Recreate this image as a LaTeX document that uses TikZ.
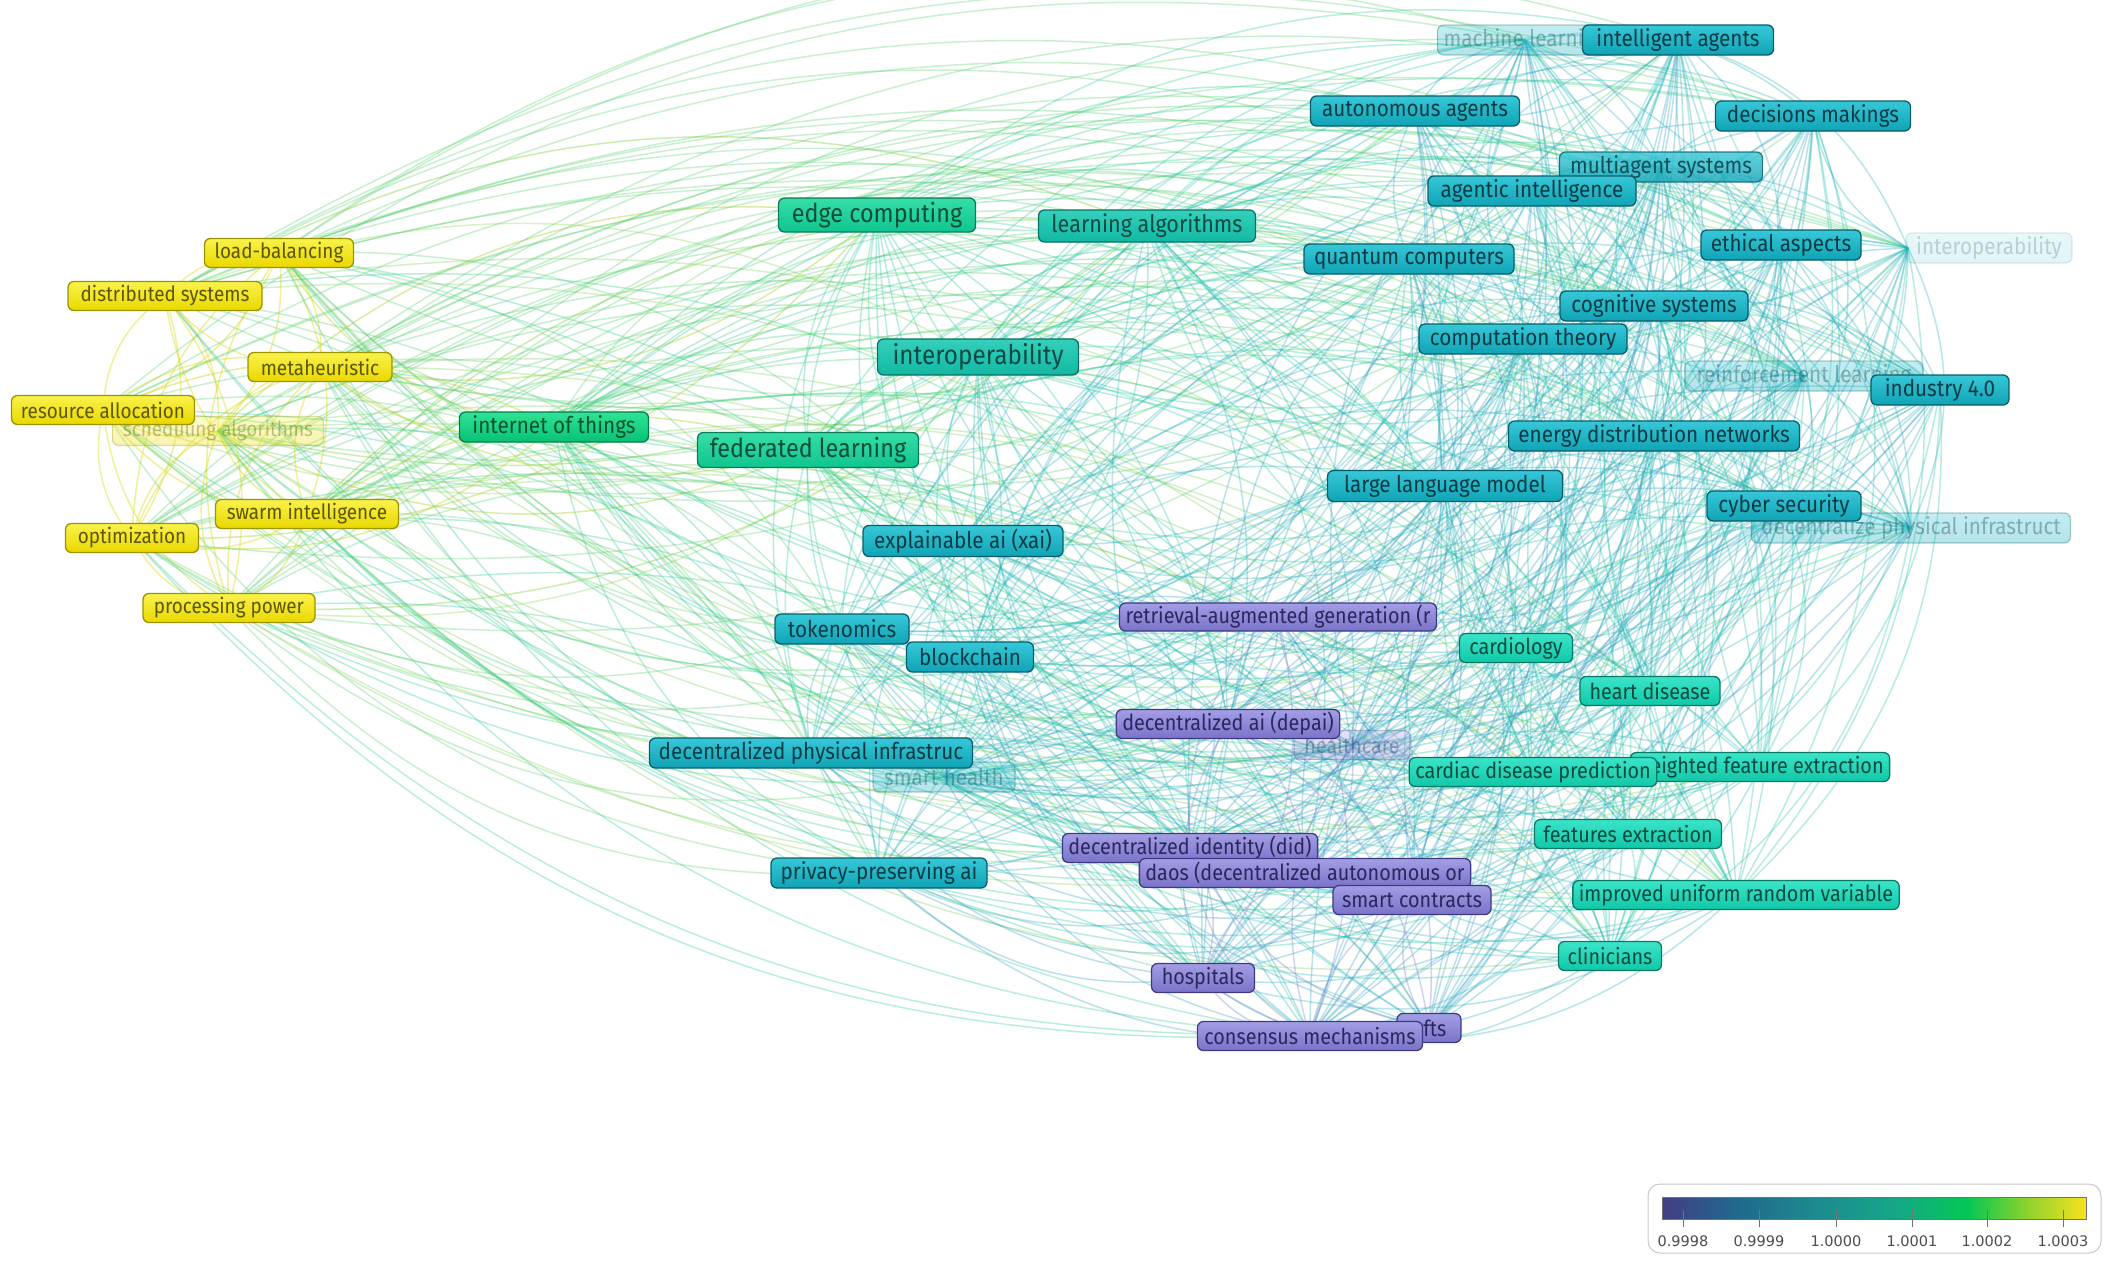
\documentclass[tikz,border=0pt]{standalone}
\usepackage{fontspec}
\setmainfont{Fira Sans}[FakeStretch=0.9]
\newfontfamily\legfont{DejaVu Sans}
\pgfdeclarelayer{bg}
\pgfsetlayers{bg,main}
% node colours
\definecolor{yT}{HTML}{F9F24A}\definecolor{yB}{HTML}{EAD800}\definecolor{yD}{HTML}{9C9400}\definecolor{yX}{HTML}{5C5600}
\definecolor{gT}{HTML}{2EE395}\definecolor{gB}{HTML}{06C275}\definecolor{gD}{HTML}{0A7A4A}\definecolor{gX}{HTML}{0A4F31}
\definecolor{hT}{HTML}{36DDA8}\definecolor{hB}{HTML}{0FC58E}\definecolor{hD}{HTML}{0B7A58}\definecolor{hX}{HTML}{0A4E3A}
\definecolor{cT}{HTML}{34D0BC}\definecolor{cB}{HTML}{12B8A2}\definecolor{cD}{HTML}{0A7065}\definecolor{cX}{HTML}{0A4A44}
\definecolor{tT}{HTML}{36C8D8}\definecolor{tB}{HTML}{0FA3B5}\definecolor{tD}{HTML}{0A5E6C}\definecolor{tX}{HTML}{0A3B45}
\definecolor{pT}{HTML}{A39EE6}\definecolor{pB}{HTML}{7A73C8}\definecolor{pD}{HTML}{3F3A85}\definecolor{pX}{HTML}{2B275E}
\definecolor{qT}{HTML}{3AE4C8}\definecolor{qB}{HTML}{10C7A8}\definecolor{qD}{HTML}{0A7A66}\definecolor{qX}{HTML}{0A4A40}
% edge colours
\definecolor{ceP}{HTML}{7B76D0}\definecolor{ceT}{HTML}{20A8C0}\definecolor{ceQ}{HTML}{20C8A8}
\definecolor{ceG}{HTML}{30CC80}\definecolor{ceY}{HTML}{E0DC20}
% legend colours
\definecolor{v0}{HTML}{433E85}\definecolor{v1}{HTML}{1F6A8D}\definecolor{v2}{HTML}{1D8A8E}
\definecolor{v3}{HTML}{16A58A}\definecolor{v4}{HTML}{03C854}\definecolor{v5}{HTML}{8CD22C}\definecolor{v6}{HTML}{F9E21E}
\pgfdeclarehorizontalshading{vir}{100bp}{color(0bp)=(v0); color(25bp)=(v0); color(34bp)=(v1); color(43bp)=(v2); color(52bp)=(v3); color(61bp)=(v4); color(68bp)=(v5); color(75bp)=(v6); color(100bp)=(v6)}
\tikzset{
  kw/.style={rounded corners=6pt, draw, line width=1.3pt, minimum height=29pt, inner xsep=6pt, inner ysep=1pt, font=\fontsize{22}{25}\selectfont, anchor=center},
  ky/.style={kw, top color=yT, bottom color=yB, draw=yD, text=yX, font=\fontsize{21}{24}\selectfont},
  kg/.style={kw, top color=gT, bottom color=gB, draw=gD, text=gX, font=\fontsize{23}{26}\selectfont},
  kh/.style={kw, top color=hT, bottom color=hB, draw=hD, text=hX},
  kc/.style={kw, top color=cT, bottom color=cB, draw=cD, text=cX},
  kt/.style={kw, top color=tT, bottom color=tB, draw=tD, text=tX, font=\fontsize{23}{26}\selectfont},
  kp/.style={kw, top color=pT, bottom color=pB, draw=pD, text=pX},
  kq/.style={kw, top color=qT, bottom color=qB, draw=qD, text=qX},
  dim/.style={opacity=0.3, text opacity=0.35},
  big/.style={font=\fontsize{26}{30}\selectfont},
  lnk/.style={line width=1.5pt},
}
\def\EL{sched/218/431/1.0, loadb/279/253/1.0, distsys/165/296/1.0, metah/320/367/1.0, resalloc/103/410/1.0, swarm/307/514/1.0, optim/132/538/1.0, procp/229/608/1.0,
iot/554/427/0.88, edgec/877/215/0.8, fedl/808/450/0.8, learnalg/1147/226/0.66, interop/978/357/0.64,
explai/963/541/0.45, tokenomics/842/629/0.45, blockchain/970/657/0.45, dpi/811/753/0.45, smarthealth/944/777/0.45, ppai/879/873/0.45,
mlearn/1525/40/0.45, intag/1678/40/0.45, autag/1415/111/0.45, decmak/1813/116/0.45, multi/1661/167/0.45, agentic/1532/191/0.45, quantum/1409/259/0.45, ethical/1781/245/0.45, hubio/1908/248/0.45,
cogsys/1654/306/0.45, comptheory/1523/339/0.45, reinf/1804/376/0.45, ind40/1940/390/0.45, energy/1654/436/0.45, llm/1445/486/0.4, cyber/1784/506/0.45, dpi2/1911/528/0.45,
rag/1278/617/0.05, depai/1228/724/0.05, healthcare/1352/745/0.05, did/1190/848/0.05, daos/1305/873/0.05, smartc/1412/900/0.05, hospitals/1203/978/0.05, nfts/1427/1028/0.05, consensus/1310/1036/0.05,
cardiology/1516/648/0.6, heart/1650/691/0.6, cdp/1533/772/0.6, wfe/1760/767/0.6, featx/1628/834/0.6, iurv/1736/895/0.6, clin/1610/956/0.6}
\begin{document}
\begin{tikzpicture}[x=1pt,y=-1pt]
\useasboundingbox (0,0) rectangle (2119,1275);
% ---- yellow cluster
\node[ky, dim, minimum width=211pt] (sched) at (218,431) {scheduling algorithms};
\node[ky, minimum width=149pt] (loadb) at (279,253) {load-balancing};
\node[ky, minimum width=194pt] (distsys) at (165,296) {distributed systems};
\node[ky, minimum width=144pt] (metah) at (320,367) {metaheuristic};
\node[ky, minimum width=183pt] (resalloc) at (103,410) {resource allocation};
\node[ky, minimum width=183pt] (swarm) at (307,514) {swarm intelligence};
\node[ky, minimum width=133pt] (optim) at (132,538) {optimization};
\node[ky, minimum width=172pt] (procp) at (229,608) {processing power};
% ---- green
\node[kg, minimum width=189pt, minimum height=30pt] (iot) at (554,427) {internet of things};
\node[kh, big, minimum width=197pt, minimum height=34pt] (edgec) at (877,215) {edge computing};
\node[kh, big, minimum width=221pt, minimum height=35pt] (fedl) at (808,450) {federated learning};
\node[kc, font=\fontsize{24}{28}\selectfont, minimum width=217pt, minimum height=32pt] (learnalg) at (1147,226) {learning algorithms};
\node[kc, font=\fontsize{27}{30}\selectfont, minimum width=201pt, minimum height=36pt] (interop) at (978,357) {interoperability};
% ---- teal
\node[kt, minimum width=200pt, minimum height=31pt] (explai) at (963,541) {explainable ai (xai)};
\node[kt, minimum width=134pt, minimum height=30pt] (tokenomics) at (842,629) {tokenomics};
\node[kt, minimum width=127pt, minimum height=30pt] (blockchain) at (970,657) {blockchain};
\node[kt, dim, minimum width=142pt, minimum height=30pt] (smarthealth) at (944,777) {smart health};
\node[kt, minimum width=323pt, minimum height=30pt] (dpi) at (811,753) {decentralized physical infrastruc};
\node[kt, minimum width=216pt, minimum height=30pt] (ppai) at (879,873) {privacy-preserving ai};
\node[kt, dim, minimum width=170pt, minimum height=30pt] (mlearn) at (1525,40) {machine learning};
\node[kt, minimum width=191pt, minimum height=30pt] (intag) at (1678,40) {intelligent agents};
\node[kt, minimum width=209pt, minimum height=30pt] (autag) at (1415,111) {autonomous agents};
\node[kt, minimum width=195pt, minimum height=30pt] (decmak) at (1813,116) {decisions makings};
\node[kt, opacity=0.8, text opacity=0.85, minimum width=203pt, minimum height=30pt] (multi) at (1661,167) {multiagent systems};
\node[kt, minimum width=208pt, minimum height=30pt] (agentic) at (1532,191) {agentic intelligence};
\node[kt, minimum width=210pt, minimum height=30pt] (quantum) at (1409,259) {quantum computers};
\node[kt, opacity=0.12, text opacity=0.2, minimum width=166pt, minimum height=30pt] (interop2) at (1989,248) {interoperability};
\coordinate (hubio) at (1908,248);
\node[kt, minimum width=160pt, minimum height=30pt] (ethical) at (1781,245) {ethical aspects};
\node[kt, minimum width=188pt, minimum height=30pt] (cogsys) at (1654,306) {cognitive systems};
\node[kt, minimum width=208pt, minimum height=30pt] (comptheory) at (1523,339) {computation theory};
\node[kt, dim, minimum width=238pt, minimum height=30pt] (reinf) at (1804,376) {reinforcement learning};
\node[kt, minimum width=138pt, minimum height=30pt] (ind40) at (1940,390) {industry 4.0};
\node[kt, minimum width=291pt, minimum height=30pt] (energy) at (1654,436) {energy distribution networks};
\node[kt, minimum width=235pt, minimum height=31pt] (llm) at (1445,486) {large language model};
\node[kt, dim, minimum width=319pt, minimum height=30pt] (dpi2) at (1911,528) {decentralize physical infrastruct};
\node[kt, minimum width=154pt, minimum height=30pt] (cyber) at (1784,506) {cyber security};
% ---- purple
\node[kp, minimum width=309pt, minimum height=28pt] (rag) at (1278,617) {retrieval-augmented generation (r};
\node[kp, dim, minimum width=116pt] (healthcare) at (1352,745) {healthcare};
\node[kp, minimum width=220pt] (depai) at (1228,724) {decentralized ai (depai)};
\node[kp, minimum width=251pt] (did) at (1190,848) {decentralized identity (did)};
\node[kp, minimum width=319pt] (daos) at (1305,873) {daos (decentralized autonomous or};
\node[kp, minimum width=158pt] (smartc) at (1412,900) {smart contracts};
\node[kp, minimum width=103pt] (hospitals) at (1203,978) {hospitals};
\node[kp, minimum width=64pt] (nfts) at (1429,1028) {nfts};
\node[kp, minimum width=225pt] (consensus) at (1310,1036) {consensus mechanisms};
% ---- turquoise
\node[kq, minimum width=113pt] (cardiology) at (1516,648) {cardiology};
\node[kq, minimum width=140pt] (heart) at (1650,691) {heart disease};
\node[kq, minimum width=259pt] (wfe) at (1760,767) {weighted feature extraction};
\node[kq, minimum width=239pt] (cdp) at (1533,772) {cardiac disease prediction};
\node[kq, minimum width=187pt] (featx) at (1628,834) {features extraction};
\node[kq, minimum width=316pt] (iurv) at (1736,895) {improved uniform random variable};
\node[kq, minimum width=103pt] (clin) at (1610,956) {clinicians};
% ---- links
\begin{pgfonlayer}{bg}
\fill[white] (0,0) rectangle (2119,1275);
\foreach \na/\xa/\ya/\va [count=\i] in \EL {
  \foreach \nb/\xb/\yb/\vb [count=\j] in \EL {
    \ifnum\j>\i
      \pgfmathtruncatemacro\hh{mod(\i*37+\j*17,100)}
      \pgfmathtruncatemacro\thr{(\va>0.95 && \vb>0.95) ? 100 : ((\va>0.95 || \vb>0.95) ? 42 : 62)}
      \ifnum\hh<\thr
      \pgfmathsetmacro\ddx{\xb-\xa}
      \pgfmathsetmacro\ddy{\yb-\ya}
      \pgfmathsetmacro\sdd{(-(\ddy)/100)*((\xa+\xb)/200-11) + ((\ddx)/100)*((\ya+\yb)/200-5.2)}
      \pgfmathtruncatemacro\hf{mod(\i*13+\j*29,10)}
      \pgfmathsetmacro\sgn{(\sdd>0 ? 1 : -1)*(\hf<3 ? -1 : 1)}
      \pgfmathsetmacro\pax{\xa+0.3548*(\ddx)-(\sgn)*0.1655*(\ddy)}
      \pgfmathsetmacro\pay{\ya+0.3548*(\ddy)+(\sgn)*0.1655*(\ddx)}
      \pgfmathsetmacro\pbx{\xb-0.3548*(\ddx)-(\sgn)*0.1655*(\ddy)}
      \pgfmathsetmacro\pby{\yb-0.3548*(\ddy)+(\sgn)*0.1655*(\ddx)}
      \pgfmathsetmacro\ev{0.72*max(\va,\vb)+0.28*min(\va,\vb)}
      \pgfmathsetmacro\eo{\ev>0.9 ? 0.45 : 0.32}
      \ifdim\ev pt<0.4pt
        \pgfmathtruncatemacro\pp{\ev/0.4*100}\colorlet{ec}{ceT!\pp!ceP}
      \else\ifdim\ev pt<0.6pt
        \pgfmathtruncatemacro\pp{(\ev-0.4)/0.2*100}\colorlet{ec}{ceQ!\pp!ceT}
      \else\ifdim\ev pt<0.8pt
        \pgfmathtruncatemacro\pp{(\ev-0.6)/0.2*100}\colorlet{ec}{ceG!\pp!ceQ}
      \else
        \pgfmathtruncatemacro\pp{(\ev-0.8)/0.2*100}\colorlet{ec}{ceY!\pp!ceG}
      \fi\fi\fi
      \draw[lnk, draw=ec, draw opacity=\eo] (\na.center) .. controls (\pax,\pay) and (\pbx,\pby) .. (\nb.center);
      \fi
    \fi
  }
}
\end{pgfonlayer}
% ---- legend
\draw[rounded corners=12pt, draw=black!22, line width=1pt, fill=white] (1648,1184) rectangle (2101,1253);
\shade[shading=vir] (1662,1197) rectangle (2086,1219);
\draw[black!55, line width=0.8pt] (1662,1197) rectangle (2086,1219);
\foreach \x/\l [count=\k] in {1683/0.9998, 1759/0.9999, 1836/1.0000, 1912/1.0001, 1987/1.0002, 2063/1.0003} {
  \draw[black!55, line width=1pt] (\x,1210) -- (\x,1227);
  \node[font=\legfont\fontsize{14.5}{16}\selectfont, text=black!70] (lg\k) at (\x,1241) {\l};
}
\end{tikzpicture}
\end{document}
